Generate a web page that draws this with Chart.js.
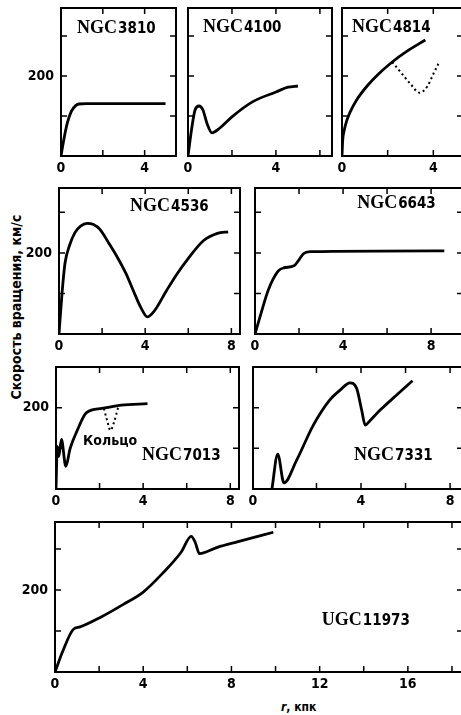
<!DOCTYPE html>
<html>
<head>
<meta charset="utf-8">
<script src="https://cdn.jsdelivr.net/npm/chart.js@4.4.0/dist/chart.umd.min.js"></script>
<style>
html, body { margin: 0; padding: 0; background: #fff; overflow: hidden; }
body { width: 461px; height: 715px; position: relative; }
canvas { position: absolute; }
.ytitle {
  position: absolute; left: 16px; top: 307px;
  transform: translate(-50%, -50%) rotate(-90deg);
  font: bold 14px 'DejaVu Sans Condensed', 'Liberation Sans Narrow', sans-serif;
  white-space: nowrap; color: #000;
}
.xtitle {
  position: absolute; left: 281px; top: 700px;
  font: bold 12px 'DejaVu Sans Condensed', 'Liberation Sans Narrow', sans-serif;
  white-space: nowrap; color: #000;
}
</style>
</head>
<body>
<div class="ytitle">Скорость вращения, км/с</div>
<div class="xtitle"><i>r</i>, кпк</div>
<script>
// rotation curves, r in kpc, v in km/s

// NGC 3810
const r3810 = [0, 0.15, 0.3, 0.5, 0.7, 0.85, 1.2, 3, 5.0];
const v3810 = [0, 45, 82, 112, 126, 130, 131, 131, 131];

// NGC 4100
const r4100 = [0, 0.18, 0.32, 0.5, 0.68, 0.86, 1.09, 1.45, 2.0, 2.95, 4.0, 4.55, 5.0];
const v4100 = [0, 73, 115, 125, 115, 82, 58, 70, 98, 136, 160, 172, 175];

// NGC 4814 (+ dotted branch)
const r4814 = [0, 0.03, 0.1, 0.2, 0.35, 0.64, 1.1, 1.6, 2.2, 2.85, 3.65];
const v4814 = [0, 39, 65, 87, 109, 140, 175, 205, 235, 262, 290];
const r4814b = [2.2, 2.65, 3.0, 3.4, 3.75, 4.0, 4.26];
const v4814b = [235, 204, 180, 158, 175, 205, 235];

// NGC 4536
const r4536 = [0, 0.14, 0.28, 0.5, 0.74, 1.0, 1.3, 1.6, 1.9, 2.3, 2.7, 3.1, 3.44, 3.8, 4.1, 4.4, 5.0, 5.5, 5.95, 6.7, 7.35, 7.85];
const v4536 = [0, 100, 175, 220, 250, 266, 273, 270, 258, 225, 190, 150, 108, 65, 42, 55, 108, 150, 183, 230, 248, 252];

// NGC 6643
const r6643 = [0, 0.27, 0.6, 1.05, 1.3, 1.77, 2.0, 2.2, 2.5, 8.6];
const v6643 = [0, 50, 108, 155, 163, 168, 183, 198, 203, 205];

// NGC 7013 (+ ring, dotted)
const r7013 = [0, 0.06, 0.13, 0.25, 0.45, 0.65, 0.95, 1.4, 2.1, 3.0, 4.2];
const v7013 = [0, 105, 80, 122, 56, 100, 141, 188, 198, 206, 210];
const r7013b = [2.2, 2.35, 2.5, 2.65, 2.85];
const v7013b = [198, 168, 144, 162, 200];

// NGC 7331
const r7331 = [0, 0.26, 0.54, 1.11, 1.86, 2.6, 3.1, 3.5, 3.8, 4.03, 4.19, 4.4, 4.86, 5.6, 6.31];
const v7331 = [0, 86, 15, 71, 157, 219, 245, 261, 248, 194, 157, 168, 194, 231, 266];

// UGC 11973
const r11973 = [0, 0.36, 0.83, 1.14, 2.05, 3.1, 4.0, 4.9, 5.7, 6.18, 6.36, 6.55, 7.36, 8.3, 9.9];
const v11973 = [0, 52, 104, 110, 133, 165, 195, 242, 291, 331, 316, 289, 304, 318, 341];

// ticks
const vTicks = [100, 200, 300];
const vText = ['', '200', ''];
const vTextNone = ['', '', ''];
const rTicks6 = [0, 2, 4];
const rText6 = ['0', '', '4'];
const rTicks6b = [0, 2, 4, 6];
const rText6b = ['0', '', '4', ''];
const rTicks8 = [0, 2, 4, 6, 8];
const rText8 = ['0', '', '4', '', '8'];
const rTicks7331 = [-0.85, 2, 4, 6, 8];
const rText7331 = ['0', '', '4', '', '8'];
const rTicks18 = [0, 2, 4, 6, 8, 10, 12, 14, 16, 18];
const rText18 = ['0', '', '4', '', '8', '', '12', '', '16', ''];

const NUM = "'Liberation Sans Narrow', 'DejaVu Sans Condensed', sans-serif";
const SERIF = "'Liberation Serif', 'DejaVu Serif', serif";
const CYR = "'DejaVu Sans Condensed', 'Liberation Sans Narrow', sans-serif";

const frame = {
  id: 'frame',
  afterDatasetsDraw(chart) {
    const { ctx, chartArea: a, scales: { x, y } } = chart;
    ctx.save();
    ctx.strokeStyle = '#000';
    ctx.lineWidth = 2;
    ctx.strokeRect(a.left, a.top, a.right - a.left, a.bottom - a.top);
    ctx.lineWidth = 1.5;
    ctx.beginPath();
    x.ticks.forEach(t => {
      const px = x.getPixelForValue(t.value);
      ctx.moveTo(px, a.bottom); ctx.lineTo(px, a.bottom - 6);
      ctx.moveTo(px, a.top); ctx.lineTo(px, a.top + 6);
    });
    y.ticks.forEach(t => {
      const py = y.getPixelForValue(t.value);
      ctx.moveTo(a.left, py); ctx.lineTo(a.left + 6, py);
      ctx.moveTo(a.right, py); ctx.lineTo(a.right - 6, py);
    });
    ctx.stroke();
    ctx.restore();
  }
};

function name(pre, num) {
  return [{ text: pre, font: 'bold 18px ' + SERIF }, { text: num, font: 'bold 15px ' + NUM }];
}

function panel(box, o) {
  const padL = o.yText === vText ? 40 : 12;
  const padB = 24;
  const c = document.createElement('canvas');
  c.width = box[2] - box[0] + padL + 4;
  c.height = box[3] - box[1] + 4 + padB;
  c.style.left = (box[0] - padL) + 'px';
  c.style.top = (box[1] - 4) + 'px';
  document.body.appendChild(c);

  const labels = {
    id: 'labels',
    afterDraw(chart) {
      const { ctx, scales: { x, y } } = chart;
      ctx.save();
      ctx.fillStyle = '#000';
      ctx.textBaseline = 'alphabetic';
      o.labels.forEach(it => {
        let px = x.getPixelForValue(it.x);
        const py = y.getPixelForValue(it.y);
        it.parts.forEach(p => {
          ctx.font = p.font;
          ctx.fillText(p.text, px, py);
          px += ctx.measureText(p.text).width + 1;
        });
      });
      ctx.restore();
    }
  };

  const tickFont = { family: NUM, size: 14, weight: 'bold' };

  return new Chart(c, {
    type: 'line',
    data: {
      datasets: o.series.map(s => ({
        data: s.r.map((r, i) => ({ x: r, y: s.v[i] })),
        borderColor: '#000',
        borderWidth: s.dotted ? 2 : 2.8,
        borderDash: s.dotted ? [2, 3] : [],
        pointRadius: 0,
        cubicInterpolationMode: 'monotone',
        fill: false
      }))
    },
    options: {
      responsive: false,
      animation: false,
      events: [],
      layout: { padding: { top: 4, right: 4, left: 0, bottom: 0 } },
      plugins: { legend: { display: false }, tooltip: { enabled: false } },
      scales: {
        x: {
          type: 'linear', min: o.xMin, max: o.xMax,
          grid: { display: false, drawTicks: false }, border: { display: false },
          afterBuildTicks: s => { s.ticks = o.xTicks.map(v => ({ value: v })); },
          afterFit: s => { s.height = padB; s.paddingLeft = 0; s.paddingRight = 0; },
          ticks: { autoSkip: false, maxRotation: 0, padding: 4, color: '#000', font: tickFont,
                   callback: (v, i) => o.xText[i] }
        },
        y: {
          type: 'linear', min: 0, max: o.yMax,
          grid: { display: false, drawTicks: false }, border: { display: false },
          afterBuildTicks: s => { s.ticks = vTicks.filter(v => v < o.yMax).map(v => ({ value: v })); },
          afterFit: s => { s.width = padL; s.paddingTop = 0; s.paddingBottom = 0; },
          ticks: { autoSkip: false, padding: 7, color: '#000', font: tickFont,
                   callback: (v, i) => o.yText[i] }
        }
      }
    },
    plugins: [frame, labels]
  });
}

// row 1
panel([61, 8, 176, 156], {
  xMin: 0, xMax: 5.5, yMax: 370, xTicks: rTicks6, xText: rText6, yText: vText,
  series: [{ r: r3810, v: v3810 }],
  labels: [{ x: 0.77, y: 307, parts: name('NGC', '3810') }]
});
panel([188, 8, 332, 156], {
  xMin: 0, xMax: 6.55, yMax: 370, xTicks: rTicks6b, xText: rText6b, yText: vTextNone,
  series: [{ r: r4100, v: v4100 }],
  labels: [{ x: 0.68, y: 310, parts: name('NGC', '4100') }]
});
panel([342, 8, 463, 156], {
  xMin: 0, xMax: 5.3, yMax: 370, xTicks: rTicks6, xText: rText6, yText: vTextNone,
  series: [{ r: r4814, v: v4814 }, { r: r4814b, v: v4814b, dotted: true }],
  labels: [{ x: 0.44, y: 310, parts: name('NGC', '4814') }]
});

// row 2
panel([59, 188, 240, 334], {
  xMin: 0, xMax: 8.4, yMax: 360, xTicks: rTicks8, xText: rText8, yText: vText,
  series: [{ r: r4536, v: v4536 }],
  labels: [{ x: 3.3, y: 304, parts: name('NGC', '4536') }]
});
panel([255, 188, 463, 334], {
  xMin: 0, xMax: 9.45, yMax: 360, xTicks: rTicks8, xText: rText8, yText: vTextNone,
  series: [{ r: r6643, v: v6643 }],
  labels: [{ x: 4.64, y: 311, parts: name('NGC', '6643') }]
});

// row 3
panel([56, 367, 239, 489], {
  xMin: 0, xMax: 8.4, yMax: 300, xTicks: rTicks8, xText: rText8, yText: vText,
  series: [{ r: r7013, v: v7013 }, { r: r7013b, v: v7013b, dotted: true }],
  labels: [
    { x: 3.95, y: 71, parts: name('NGC', '7013') },
    { x: 1.24, y: 107, parts: [{ text: 'Кольцо', font: 'bold 14px ' + CYR }] }
  ]
});
panel([253, 367, 463, 489], {
  xMin: -0.85, xMax: 8.58, yMax: 300, xTicks: rTicks7331, xText: rText7331, yText: vTextNone,
  series: [{ r: r7331, v: v7331 }],
  labels: [{ x: 3.69, y: 71, parts: name('NGC', '7331') }]
});

// row 4
panel([55, 522, 463, 672], {
  xMin: 0, xMax: 18.5, yMax: 366, xTicks: rTicks18, xText: rText18, yText: vText,
  series: [{ r: r11973, v: v11973 }],
  labels: [{ x: 12.1, y: 115, parts: name('UGC', '11973') }]
});
</script>
</body>
</html>
